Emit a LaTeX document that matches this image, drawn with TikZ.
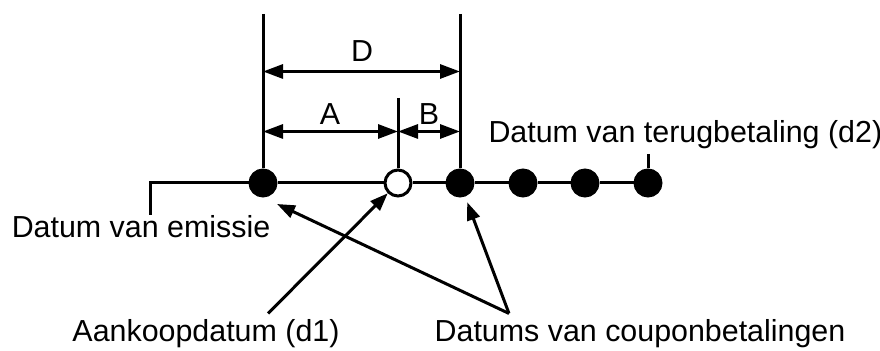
\documentclass[tikz,border=0pt]{standalone}
\usepackage{fontspec}
\setmainfont{Liberation Sans}
\usetikzlibrary{arrows.meta, positioning}

\begin{document}
\begin{tikzpicture}[
  x=0.5pt, y=-0.5pt,
  line width=1.5pt,
  dot/.style={circle, draw, fill=black, minimum size=13pt, inner sep=0pt},
  hol/.style={circle, draw, fill=white, minimum size=13pt, inner sep=0pt},
  lbl/.style={inner sep=0pt, font=\fontsize{15.2}{18}\selectfont},
  dim/.style={{Triangle[length=10pt,width=7pt]}-{Triangle[length=10pt,width=7pt]}},
  ptr/.style={-{Triangle[length=9pt,width=6.5pt]}},
]
\useasboundingbox (0,0) rectangle (880,351);
% Tijdlijn
\node[dot] (em)  at (263,183) {};
\node[hol] (ak)  at (398,183) {};
\node[dot] (cp1) at (460,183) {};
\node[dot] (cp2) at (523,183) {};
\node[dot] (cp3) at (585,183) {};
\node[dot] (tb)  at (648,183) {};
\draw (em) -- (ak) -- (cp1) -- (cp2) -- (cp3) -- (tb);
% Teksten
\node[lbl, anchor=base] (emis) at (141,238) {Datum van emissie};
\node[lbl, anchor=base west] (terug) at (487,143) {Datum van terugbetaling (d2)};
\node[lbl, anchor=base] (aank) at (206,342) {Aankoopdatum (d1)};
\node[lbl, anchor=base] (coup) at (640,342) {Datums van couponbetalingen};
\node[lbl, anchor=base] (lD) at (362,62) {D};
\node[lbl, anchor=base] (lA) at (330,125) {A};
\node[lbl, anchor=base] (lB) at (429,125) {B};
% Maatlijnen
\coordinate (emtop) at (263,14);
\coordinate (cptop) at (460,14);
\coordinate (aktop) at (398,98);
\draw (emtop) -- (em.north);
\draw (cptop) -- (cp1.north);
\draw (aktop) -- (ak.north);
\draw[dim] (emtop |- lD.south) ++(0,8) coordinate (dl) -- (dl -| cptop);
\draw[dim] (emtop |- lA.south) ++(0,5) coordinate (al) -- (al -| aktop);
\draw[dim] (aktop |- lB.south) ++(0,5) coordinate (bl) -- (bl -| cptop);
% Aanwijslijnen
\coordinate (emleg) at (150,215);
\draw (emleg) |- (em.west);
\draw ([yshift=-1.5pt]terug.south -| tb) -- (tb.north);
\coordinate (empunt) at (277,204);
\draw[ptr] ([xshift=-65.5pt,yshift=2.5pt]coup.north) -- (empunt);
\draw[ptr, shorten >=3pt] ([xshift=-65.5pt,yshift=2.5pt]coup.north) -- (cp1);
\draw[ptr] ([xshift=31pt,yshift=2.5pt]aank.north) -- (ak);
\end{tikzpicture}
\end{document}
